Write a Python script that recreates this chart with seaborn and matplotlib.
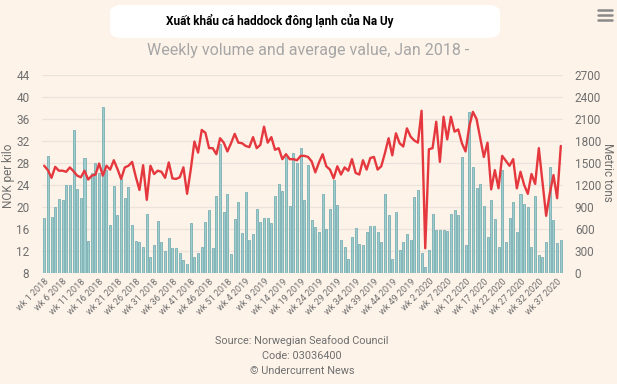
import matplotlib
matplotlib.use("Agg")

import matplotlib.pyplot as plt
from matplotlib.patches import FancyBboxPatch
from matplotlib.lines import Line2D
import seaborn as sns
import pandas as pd

# weekly frozen haddock exports, wk 1 2018 .. wk 38 2020
volume_t = [
    745, 1600, 764, 895, 1014, 1000, 1200, 1200, 1950, 1150,
    1018, 1568, 436, 1359, 1504, 1359, 2259, 1404, 650, 1190,
    786, 1277, 1027, 1177, 650, 440, 418, 356, 802, 225,
    388, 710, 421, 300, 475, 338, 338, 271, 181, 126,
    681, 222, 271, 352, 692, 855, 338, 1052, 1761, 830,
    1080, 263, 735, 962, 545, 1107, 449, 531, 871, 690,
    749, 749, 676, 1044, 1216, 1125, 1588, 908, 1643, 1498,
    1702, 998, 1475, 726, 626, 563, 1080, 599, 871, 1262,
    926, 449, 354, 191, 490, 608, 399, 386, 558, 640,
    640, 558, 422, 1080, 785, 191, 830, 318, 420, 531,
    449, 1030, 1138, 270, 80, 309, 803, 581, 581, 590,
    567, 808, 853, 794, 1579, 377, 2192, 1443, 1162, 1216,
    908, 486, 998, 731, 349, 1407, 417, 744, 971, 560,
    1080, 935, 894, 349, 1053, 250, 225, 417, 1443, 717,
    404, 454,
]

price_nok = [
    27.5, 26.7, 25.3, 27.3, 26.6, 26.6, 26.4, 27.2, 26.5, 25.7,
    25.4, 26.6, 25.0, 25.7, 25.9, 27.9, 25.7, 27.5, 26.8, 28.5,
    26.9, 25.1, 27.2, 27.5, 28.2, 25.5, 23.1, 27.6, 21.3, 27.5,
    26.0, 26.6, 26.4, 25.3, 28.1, 25.2, 25.1, 25.4, 27.2, 22.4,
    26.8, 31.9, 29.9, 34.0, 33.5, 30.7, 30.7, 29.6, 32.5, 31.7,
    30.1, 31.6, 33.3, 31.7, 31.6, 31.1, 30.9, 32.7, 30.7, 31.3,
    34.6, 31.7, 32.7, 30.4, 30.7, 28.7, 29.6, 28.7, 28.7, 28.5,
    29.3, 29.3, 29.1, 28.3, 26.3, 28.1, 29.6, 27.4, 26.8, 25.2,
    27.4, 25.9, 27.2, 26.6, 28.7, 26.2, 25.9, 28.5, 26.8, 28.9,
    29.1, 26.8, 27.4, 29.8, 32.5, 29.4, 33.4, 31.6, 31.0, 34.3,
    32.8, 32.1, 31.7, 37.5, 12.5, 30.5, 30.7, 35.5, 28.2, 36.4,
    32.3, 36.4, 33.7, 34.1, 31.6, 30.1, 34.6, 37.3, 36.0, 32.5,
    29.1, 31.7, 23.2, 26.7, 23.4, 29.3, 28.4, 27.5, 28.7, 23.4,
    26.4, 24.0, 22.4, 26.0, 24.2, 30.7, 24.6, 18.4, 22.5, 25.8,
    21.6, 31.1,
]

weeks = ([f"wk {w} 2018" for w in range(1, 53)]
         + [f"wk {w} 2019" for w in range(1, 53)]
         + [f"wk {w} 2020" for w in range(1, 39)])

tick_labels = [
    "wk 1 2018", "wk 6 2018", "wk 11 2018", "wk 16 2018", "wk 21 2018",
    "wk 26 2018", "wk 31 2018", "wk 36 2018", "wk 41 2018", "wk 46 2018",
    "wk 51 2018", "wk 4 2019", "wk 9 2019", "wk 14 2019", "wk 19 2019",
    "wk 24 2019", "wk 29 2019", "wk 34 2019", "wk 39 2019", "wk 44 2019",
    "wk 49 2019", "wk 2 2020", "wk 7 2020", "wk 12 2020", "wk 17 2020",
    "wk 22 2020", "wk 27 2020", "wk 32 2020", "wk 37 2020",
]

BG = "#fdf3e9"
GREY = "#6f6f6f"

sns.set_theme(style="white")
plt.rcParams["font.family"] = ["Roboto", "DejaVu Sans"]

df = pd.DataFrame({"week": weeks, "volume": volume_t, "price": price_nok})
df["pos"] = range(len(df))

fig = plt.figure(figsize=(6.17, 3.84), dpi=100, facecolor=BG)
ax = fig.add_axes([42 / 617, 1 - 273 / 384, (563 - 42) / 617, (273 - 75) / 384])
ax.set_facecolor(BG)

# bars -> metric tons (right scale)
sns.barplot(data=df, x="week", y="volume", ax=ax, color="#9dcdcf", saturation=1,
            width=0.55, edgecolor="#6aa5aa", linewidth=0.5)
ax.set_ylim(0, 2700)
ax.set_yticks(range(0, 2701, 300))
ax.set_axisbelow(True)
ax.grid(axis="y", color="#ebe3dc", linewidth=0.9)

# line -> NOK per kilo (left scale)
ax2 = ax.twinx()
sns.lineplot(data=df, x="pos", y="price", ax=ax2, color="#e5383e", linewidth=1.7)
ax2.set_ylim(8, 44)
ax2.set_yticks(range(8, 45, 4))

ax.yaxis.tick_right()
ax2.yaxis.tick_left()

ax.set_xlim(-0.6, len(df) - 0.4)
ax.set_xticks(range(0, len(df), 5))
ax.set_xticklabels(tick_labels, rotation=45, ha="right", rotation_mode="anchor",
                   fontsize=6.5, color=GREY)
ax.tick_params(axis="x", length=0, pad=3)
ax.tick_params(axis="y", length=0, pad=8.5, labelsize=8.5, labelcolor=GREY)
ax2.tick_params(axis="y", length=0, pad=9, labelsize=8.5, labelcolor=GREY)

ax.set_xlabel("")
ax.set_ylabel("")
ax2.set_ylabel("")
fig.text(9 / 617, 1 - 176 / 384, "NOK per kilo", rotation=90, ha="center",
         va="center", fontsize=8.5, color=GREY)
fig.text(607 / 617, 1 - 172 / 384, "Metric tons", rotation=270, ha="center",
         va="center", fontsize=8.5, color=GREY)

for a in (ax, ax2):
    for s in a.spines.values():
        s.set_visible(False)

# white box behind the Vietnamese title
box = FancyBboxPatch((110 / 617, 1 - 38 / 384), 390 / 617, 33 / 384,
                     boxstyle="round,pad=0,rounding_size=0.02",
                     transform=fig.transFigure, facecolor="white",
                     edgecolor="none", zorder=1)
fig.add_artist(box)
fig.text(280 / 617, 1 - 21 / 384, "Xuất khẩu cá haddock đông lạnh của Na Uy",
         ha="center", va="center", fontsize=8.5, fontweight="bold",
         color="black", zorder=2)
fig.text(308 / 617, 1 - 50 / 384, "Weekly volume and average value, Jan 2018 -",
         ha="center", va="center", fontsize=11.5, color="#a6a6a6")

# menu icon
for yy in (10, 15, 20):
    fig.add_artist(Line2D([598 / 617, 612 / 617], [1 - yy / 384] * 2,
                          color="#8a8a8a", linewidth=1.8,
                          transform=fig.transFigure))

for yy, txt in ((341, "Source: Norwegian Seafood Council"),
                (356, "Code: 03036400"),
                (371, "© Undercurrent News")):
    fig.text(302 / 617, 1 - yy / 384, txt, ha="center", va="center",
             fontsize=7.8, color=GREY)

fig.savefig("out.png", dpi=100, facecolor=BG)
